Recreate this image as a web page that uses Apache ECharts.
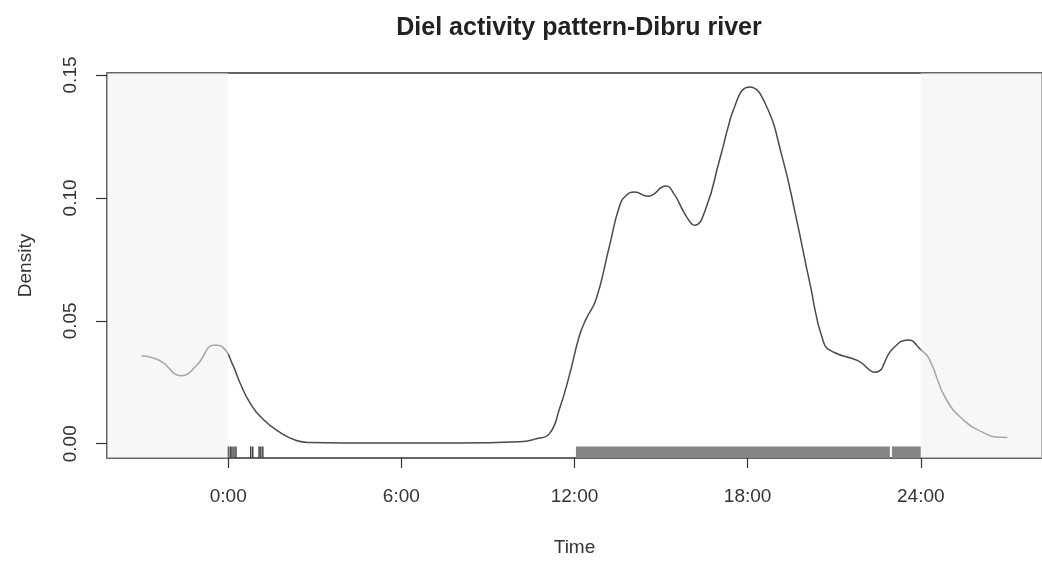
<!DOCTYPE html>
<html><head><meta charset="utf-8">
<script src="https://cdn.jsdelivr.net/npm/echarts@6/dist/echarts.min.js"></script>
<style>html,body{margin:0;padding:0;background:#fff}#c{width:1042px;height:565px}</style>
</head><body><div id="c"></div>
<script>
// Time of day (hours) and kernel density
const hours = [-3.0, -2.37, -1.62, -1.10, -0.47, -0.18, 0.17, 0.40, 0.74, 1.20, 1.78, 2.36, 2.82, 4.0, 6.0, 8.0,
  10.08, 10.67, 11.13, 11.48, 11.82, 12.17, 12.40, 12.75, 13.21, 13.56, 13.79, 14.08, 14.54, 15.17, 15.46, 15.87,
  16.16, 16.56, 17.04, 17.64, 18.06, 18.60, 19.19, 19.67, 20.15, 20.63, 20.99, 21.82, 22.42, 23.02, 23.56, 23.98,
  24.29, 24.87, 25.56, 26.14, 26.60, 27.0];
const density = [0.0358, 0.0338, 0.0277, 0.0318, 0.0402, 0.0392, 0.0318, 0.0250, 0.0169, 0.0101, 0.0047, 0.0013, 0.0005, 0.0003, 0.0003, 0.0003,
  0.0008, 0.0020, 0.0041, 0.0142, 0.0277, 0.0439, 0.0507, 0.0588, 0.0804, 0.0967, 0.1010, 0.1024, 0.1007, 0.1048, 0.1014, 0.0926,
  0.0889, 0.0960, 0.1160, 0.1400, 0.1451, 0.1386, 0.1170, 0.0926, 0.0656, 0.0413, 0.0372, 0.0338, 0.0291, 0.0385, 0.0422, 0.0385,
  0.0345, 0.0183, 0.0088, 0.0047, 0.0027, 0.0025];
// Rug: individual observation ticks and dense observation bands (hours)
const rugTicks = [0.0, 0.07, 0.13, 0.20, 0.27, 0.78, 0.85, 1.07, 1.13, 1.20];
const rugBands = [[12.05, 22.93], [23.0, 24.0]];
// Axis ticks
const xTickValues = [0, 6, 12, 18, 24];
const xTickLabels = ['0:00', '6:00', '12:00', '18:00', '24:00'];
const yTickValues = [0, 0.05, 0.10, 0.15];
// Extended (wrapped) ranges shaded light grey
const extendRanges = [[-4.2, 0], [24, 28.2]];
const xMin = -4.2, xMax = 28.2, yMin = -0.0058, yMax = 0.1508;

const font = '"Liberation Sans", Arial, sans-serif';
const chart = echarts.init(document.getElementById('c'), null, {renderer: 'canvas'});
const rugTop = yMin + 0.03 * (yMax - yMin);

const option = {
  animation: false,
  backgroundColor: '#fff',
  title: {
    text: 'Diel activity pattern-Dibru river', left: 574, top: 11, textAlign: 'center',
    textStyle: {fontFamily: font, fontSize: 25, fontWeight: 'bold', color: '#222'}
  },
  grid: {left: 107, right: 0, top: 73, bottom: 107, show: true, borderColor: '#333', borderWidth: 1.5, backgroundColor: 'transparent'},
  xAxis: {
    type: 'value', min: xMin, max: xMax,
    name: 'Time', nameLocation: 'middle', nameGap: 80,
    nameTextStyle: {fontFamily: font, fontSize: 19, color: '#333'},
    axisLine: {show: false, onZero: false}, splitLine: {show: false},
    axisTick: {show: true, customValues: xTickValues, length: 10, lineStyle: {color: '#333', width: 1.2}},
    axisLabel: {customValues: xTickValues, formatter: v => xTickLabels[xTickValues.indexOf(Math.round(v))], margin: 29,
      fontFamily: font, fontSize: 19, color: '#333'}
  },
  yAxis: {
    type: 'value', min: yMin, max: yMax,
    name: 'Density', nameLocation: 'middle', nameGap: 72, nameRotate: 90,
    nameTextStyle: {fontFamily: font, fontSize: 19, color: '#333'},
    axisLine: {show: false, onZero: false}, splitLine: {show: false},
    axisTick: {show: true, customValues: yTickValues, length: 11, lineStyle: {color: '#333', width: 1.2}},
    axisLabel: {customValues: yTickValues, formatter: v => v.toFixed(2), rotate: 90, margin: 27,
      fontFamily: font, fontSize: 19, color: '#333'}
  },
  series: [
    {
      type: 'line', data: hours.map((h, i) => [h, density[i]]), smooth: 0.5,
      symbol: 'none', lineStyle: {color: '#4a4a4a', width: 1.5}, z: 2,
      markArea: {
        silent: true, z: 10, itemStyle: {color: 'rgba(240,240,240,0.55)'},
        data: extendRanges.map(r => [{xAxis: r[0]}, {xAxis: r[1]}])
      }
    },
    {
      type: 'custom', data: rugBands, z: 3,
      renderItem: (params, api) => {
        const a = api.coord([api.value(0), yMin]);
        const b = api.coord([api.value(1), rugTop]);
        return {type: 'rect', shape: {x: a[0], y: b[1], width: b[0] - a[0], height: a[1] - b[1]},
          style: {fill: '#858585'}};
      }
    },
    {
      type: 'custom', data: rugTicks.map(v => [v]), z: 3,
      renderItem: (params, api) => {
        const a = api.coord([api.value(0), yMin]);
        const b = api.coord([api.value(0), rugTop]);
        return {type: 'line', shape: {x1: a[0], y1: a[1], x2: b[0], y2: b[1]},
          style: {stroke: '#444', lineWidth: 1.5}};
      }
    }
  ]
};
chart.setOption(option);
</script></body></html>
